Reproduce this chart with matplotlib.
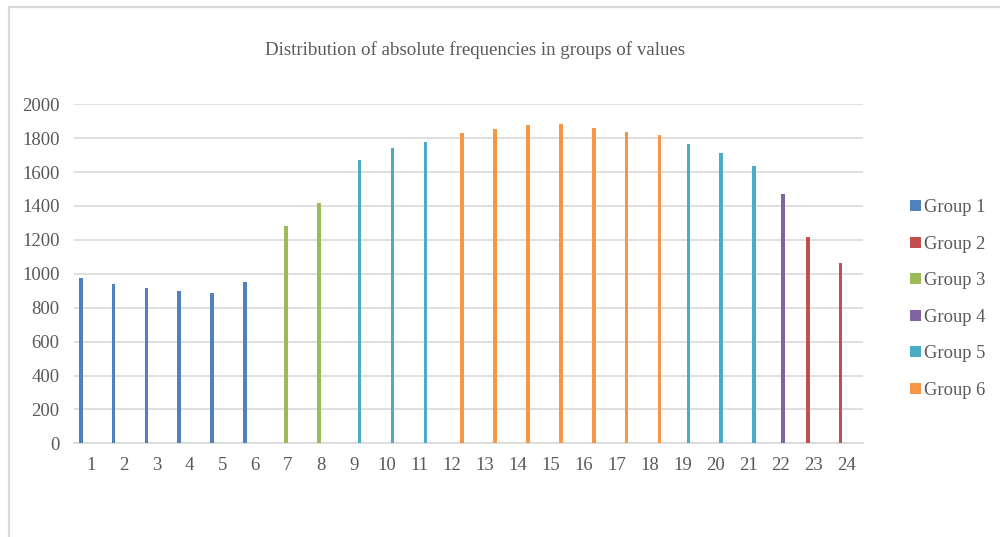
import matplotlib
matplotlib.use("Agg")
import matplotlib.pyplot as plt
from matplotlib.lines import Line2D
from matplotlib.patches import Patch
import numpy as np

categories = [str(i) for i in range(1, 25)]
values = [977, 940, 918, 897, 885, 952, 1284, 1416, 1670, 1740, 1776, 1829,
          1856, 1876, 1882, 1862, 1837, 1819, 1764, 1711, 1634, 1471, 1217, 1064]
# group (1..6) that each category belongs to
category_group = [1, 1, 1, 1, 1, 1, 3, 3, 5, 5, 5, 6,
                  6, 6, 6, 6, 6, 6, 5, 5, 5, 4, 2, 2]
group_names = ["Group 1", "Group 2", "Group 3", "Group 4", "Group 5", "Group 6"]
group_colors = ["#4f81bd", "#c0504d", "#9bbb59", "#8064a2", "#4bacc6", "#f79646"]
y_ticks = [0, 200, 400, 600, 800, 1000, 1200, 1400, 1600, 1800, 2000]

plt.rcParams["font.family"] = ["Liberation Serif", "DejaVu Serif"]
text_color = "#595959"

fig = plt.figure(figsize=(10, 5.37), dpi=100)
W, H = 1000, 537
ax = fig.add_axes([74.3 / W, 1 - 443.3 / H, (863.1 - 74.3) / W, (443.3 - 104.3) / H])

n_groups = len(group_names)
slot = 1.0 / (n_groups + 2.19)
bar_w = slot * 0.9
x = np.arange(len(categories))

for gi, (name, color) in enumerate(zip(group_names, group_colors)):
    g = gi + 1
    vals = [v if cg == g else 0 for v, cg in zip(values, category_group)]
    offset = (gi - (n_groups - 1) / 2) * slot
    ax.bar(x + offset, vals, width=bar_w, color=color, label=name, zorder=3)

ax.set_xlim(-0.5, len(categories) - 0.5)
ax.set_ylim(0, 2000)
ax.set_yticks(y_ticks)
ax.set_yticklabels([str(t) for t in y_ticks])
ax.set_xticks(x)
ax.set_xticklabels(categories)
ax.grid(axis="y", color="#d9d9d9", linewidth=1.2, zorder=0)
ax.tick_params(axis="both", length=0, labelsize=13.5, colors=text_color)
ax.tick_params(axis="y", pad=10.5)
ax.tick_params(axis="x", pad=10)
for side in ["top", "right", "left"]:
    ax.spines[side].set_visible(False)
ax.spines["bottom"].set_color("#d9d9d9")
ax.spines["bottom"].set_linewidth(1.2)

fig.text(474.7 / W, 1 - 50 / H, "Distribution of absolute frequencies in groups of values",
         ha="center", va="center", fontsize=13.6, color=text_color)

handles = [Patch(facecolor=c, edgecolor="none") for c in group_colors]
fig.legend(handles, group_names, loc="center left",
           bbox_to_anchor=(903 / W, 1 - 299 / H), frameon=False,
           borderaxespad=0, fontsize=13.3, labelcolor=text_color,
           handlelength=0.55, handleheight=0.55, handletextpad=0.2,
           labelspacing=1.06)

# chart-area frame
fig.add_artist(Line2D([8.5 / W, 8.5 / W], [0, 1 - 6.5 / H], color="#d9d9d9",
                      linewidth=1.6, transform=fig.transFigure))
fig.add_artist(Line2D([8.5 / W, 1], [1 - 6.5 / H, 1 - 6.5 / H], color="#d9d9d9",
                      linewidth=1.6, transform=fig.transFigure))

fig.savefig("out.png", dpi=100, facecolor="white")
